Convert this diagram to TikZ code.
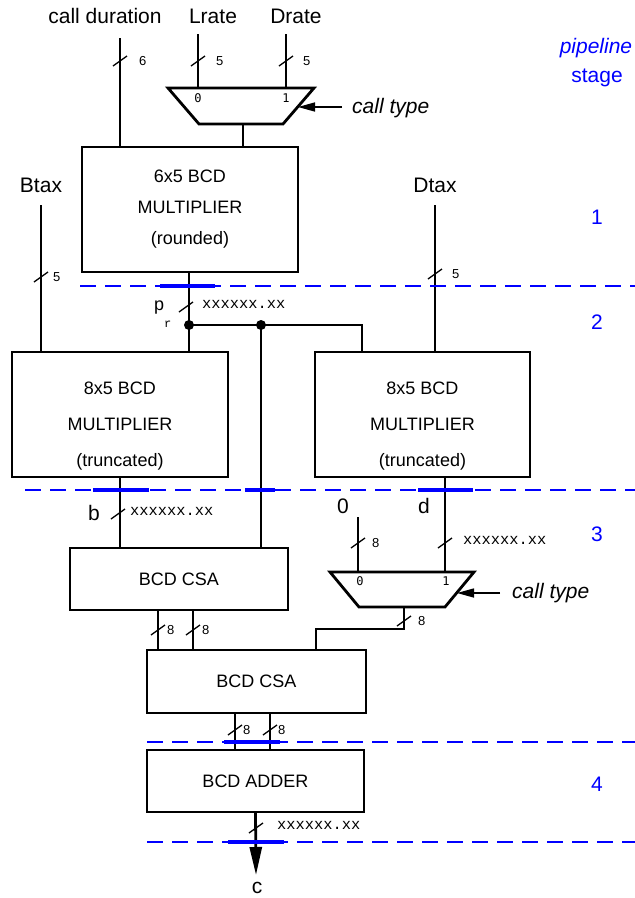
\documentclass[tikz,border=0pt]{standalone}
\usepackage{fontspec}
\setmainfont{Liberation Sans}
\setmonofont{Liberation Mono}
\newfontfamily\muxfont{DejaVu Sans Mono}
\usetikzlibrary{arrows.meta,calc}
\definecolor{stageblue}{HTML}{0000FF}

\begin{document}
\begin{tikzpicture}[x=1pt,y=-1pt,
  wire/.style={line width=2.8pt},
  blk/.style={draw,line width=2.8pt,inner sep=0pt,outer sep=0pt,align=center,font=\fontsize{18}{31}\selectfont},
  lbl/.style={font=\fontsize{21}{25}\selectfont,inner sep=0pt,anchor=base},
  tick/.style={line width=1.3pt},
  wd/.style={font=\fontsize{13}{13}\selectfont,inner sep=0pt,anchor=west},
  fmt/.style={font=\fontsize{15.4}{16}\ttfamily,inner sep=0pt,anchor=west},
  sel/.style={font=\fontsize{12}{12}\muxfont,inner sep=0pt},
  ctl/.style={line width=1.5pt,-{Triangle[length=17pt,width=9pt]}},
  stage/.style={dash pattern=on 16pt off 9pt,line width=1.4pt,stageblue},
  reg/.style={line width=4pt,stageblue}]
  \useasboundingbox (0,0) rectangle (635,898);

  \node[lbl] (cdur) at (105,23) {call duration};
  \node[lbl] (lrate) at (213,23) {Lrate};
  \node[lbl] (drate) at (296,23) {Drate};
  \node[lbl] (btax) at (41,192) {Btax};
  \node[lbl] (dtax) at (435,192) {Dtax};
  \node[lbl,stageblue,font=\fontsize{21}{25}\selectfont\itshape] (pipe) at (596,53) {pipeline};
  \node[lbl,stageblue] (stg) at (597,82) {stage};
  \foreach \n/\y in {1/224, 2/329, 3/541, 4/791}
    \node[lbl,stageblue] (stg\n) at (597,\y) {\n};

  \node[blk,minimum width=216,minimum height=125] (mulA) at (190,209.5) {6x5 BCD\\MULTIPLIER\\(rounded)};
  \node[blk,minimum width=216,minimum height=125,font=\fontsize{18}{36}\selectfont] (mulB) at (120,414.5) {\rule{0pt}{35pt}8x5 BCD\\MULTIPLIER\\(truncated)};
  \node[blk,minimum width=215,minimum height=125,font=\fontsize{18}{36}\selectfont] (mulC) at (422.5,414.5) {\rule{0pt}{35pt}8x5 BCD\\MULTIPLIER\\(truncated)};
  \node[blk,minimum width=218,minimum height=62] (csaA) at (179,579) {BCD CSA};
  \node[blk,minimum width=219,minimum height=63] (csaB) at (256.5,681.5) {BCD CSA};
  \node[blk,minimum width=217,minimum height=62] (addr) at (255.5,781) {BCD ADDER};

  % multiplexers
  \draw[wire,line join=miter] (168,88) -- (314,88) -- (283,124) -- (199,124) -- cycle;
  \draw[wire,line join=miter] (330,572) -- (474,572) -- (445,607) -- (359,607) -- cycle;
  \coordinate (muxAi0) at (198,88);
  \coordinate (muxAi1) at (286,88);
  \coordinate (muxAo) at (243,124);
  \coordinate (muxAs) at (298,107);
  \coordinate (muxBi0) at (358,572);
  \coordinate (muxBi1) at (445,572);
  \coordinate (muxBo) at (404,607);
  \coordinate (muxBs) at (457,593);
  \node[sel] (selA0) at (198,98) {0};
  \node[sel] (selA1) at (286,98) {1};
  \node[sel] (selB0) at (360,581) {0};
  \node[sel] (selB1) at (446,581) {1};
  \node[lbl,font=\fontsize{21}{25}\selectfont\itshape,anchor=base west] (ctA) at (352,113) {call type};
  \node[lbl,font=\fontsize{21}{25}\selectfont\itshape,anchor=base west] (ctB) at (512,598) {call type};
  \draw[ctl] ([xshift=-10pt]ctA.west |- muxAs) -- (muxAs);
  \draw[ctl] ([xshift=-12pt]ctB.west |- muxBs) -- (muxBs);

  \coordinate (cdIn) at (120,38);
  \coordinate (lrIn) at (198,34);
  \coordinate (drIn) at (286,34);
  \coordinate (btIn) at (41,205);
  \coordinate (dtIn) at (435,205);
  \coordinate (zIn) at (358,517);
  \coordinate (jA) at (189,325);
  \coordinate (jB) at (261,325);
  \coordinate (mcIn) at (362,352);
  \coordinate (cbIn) at (316,650);
  \coordinate (cEnd) at (256,875);
  \node[lbl] (zero) at (343,513) {0};
  \node[lbl] (dlbl) at (424,513) {d};
  \node[lbl] (blbl) at (94,520) {b};
  \node[lbl,font=\fontsize{18}{20}\selectfont,anchor=base west] (prlbl) at (154,310) {p\raisebox{-17pt}{\fontsize{12}{12}\ttfamily r}};
  \node[lbl] (clbl) at (257,893) {c};

  \draw[wire] (cdIn) -- (cdIn |- mulA.north);
  \draw[wire] (lrIn) -- (muxAi0);
  \draw[wire] (drIn) -- (muxAi1);
  \draw[wire] (muxAo) -- (muxAo |- mulA.north);
  \draw[wire] (btIn) -- (btIn |- mulB.north);
  \draw[wire] (dtIn) -- (dtIn |- mulC.north);
  \draw[wire] (jA |- mulA.south) -- (jA) -- (jA |- mulB.north);
  \draw[wire] (jA) -| (mcIn);
  \draw[wire] (jB) -- (jB |- csaA.north);
  \draw[wire] (mulB.south) -- (mulB.south |- csaA.north);
  \draw[wire] (muxBi1 |- mulC.south) -- (muxBi1);
  \draw[wire] (zIn) -- (muxBi0);
  \draw[wire] (muxBo) -- ++(0,22) -| (cbIn);
  \foreach \d in {-21,14}
    \draw[wire] ([xshift=\d pt]csaA.south) -- ([xshift=\d pt]csaA.south |- csaB.north);
  \foreach \d in {-21.5,13.5}
    \draw[wire] ([xshift=\d pt]csaB.south) -- ([xshift=\d pt]csaB.south |- addr.north);
  \draw[wire,-{Triangle[length=28pt,width=12pt]}] (addr.south) -- (cEnd);
  \fill (jA) circle (5pt);
  \fill (jB) circle (5pt);

  % bus widths
  \foreach \x/\y/\d/\w [count=\i] in {120/61/19/6, 198/61/18/5, 286/61/17/5, 41/277/12/5, 435/274/17/5, 358/543/14/8, 404/621/14/8, 158/630/9/8, 193/630/9/8, 235/730/8/8, 270/730/8/8} {
    \draw[tick] (\x-7,\y+5) -- (\x+7,\y-5);
    \node[wd] (w\i) at (\x+\d,\y) {\w};
  }
  \foreach \x/\y/\d [count=\i] in {186/307/16, 118/514/12, 445/543/18, 256/828/21} {
    \draw[tick] (\x-7,\y+5) -- (\x+7,\y-5);
    \node[fmt] (f\i) at (\x+\d,\y-3) {xxxxxx.xx};
  }

  % pipeline registers
  \draw[stage] (80,286) -- (635,286);
  \draw[stage] (25,490) -- (635,490);
  \draw[stage] (147,742) -- (635,742);
  \draw[stage] (147,842) -- (635,842);
  \foreach \a/\b/\y in {160/215/286, 93/149/490, 245/275/490, 418/473/490, 224/280/742, 228/284/842}
    \draw[reg] (\a,\y) -- (\b,\y);
\end{tikzpicture}
\end{document}
